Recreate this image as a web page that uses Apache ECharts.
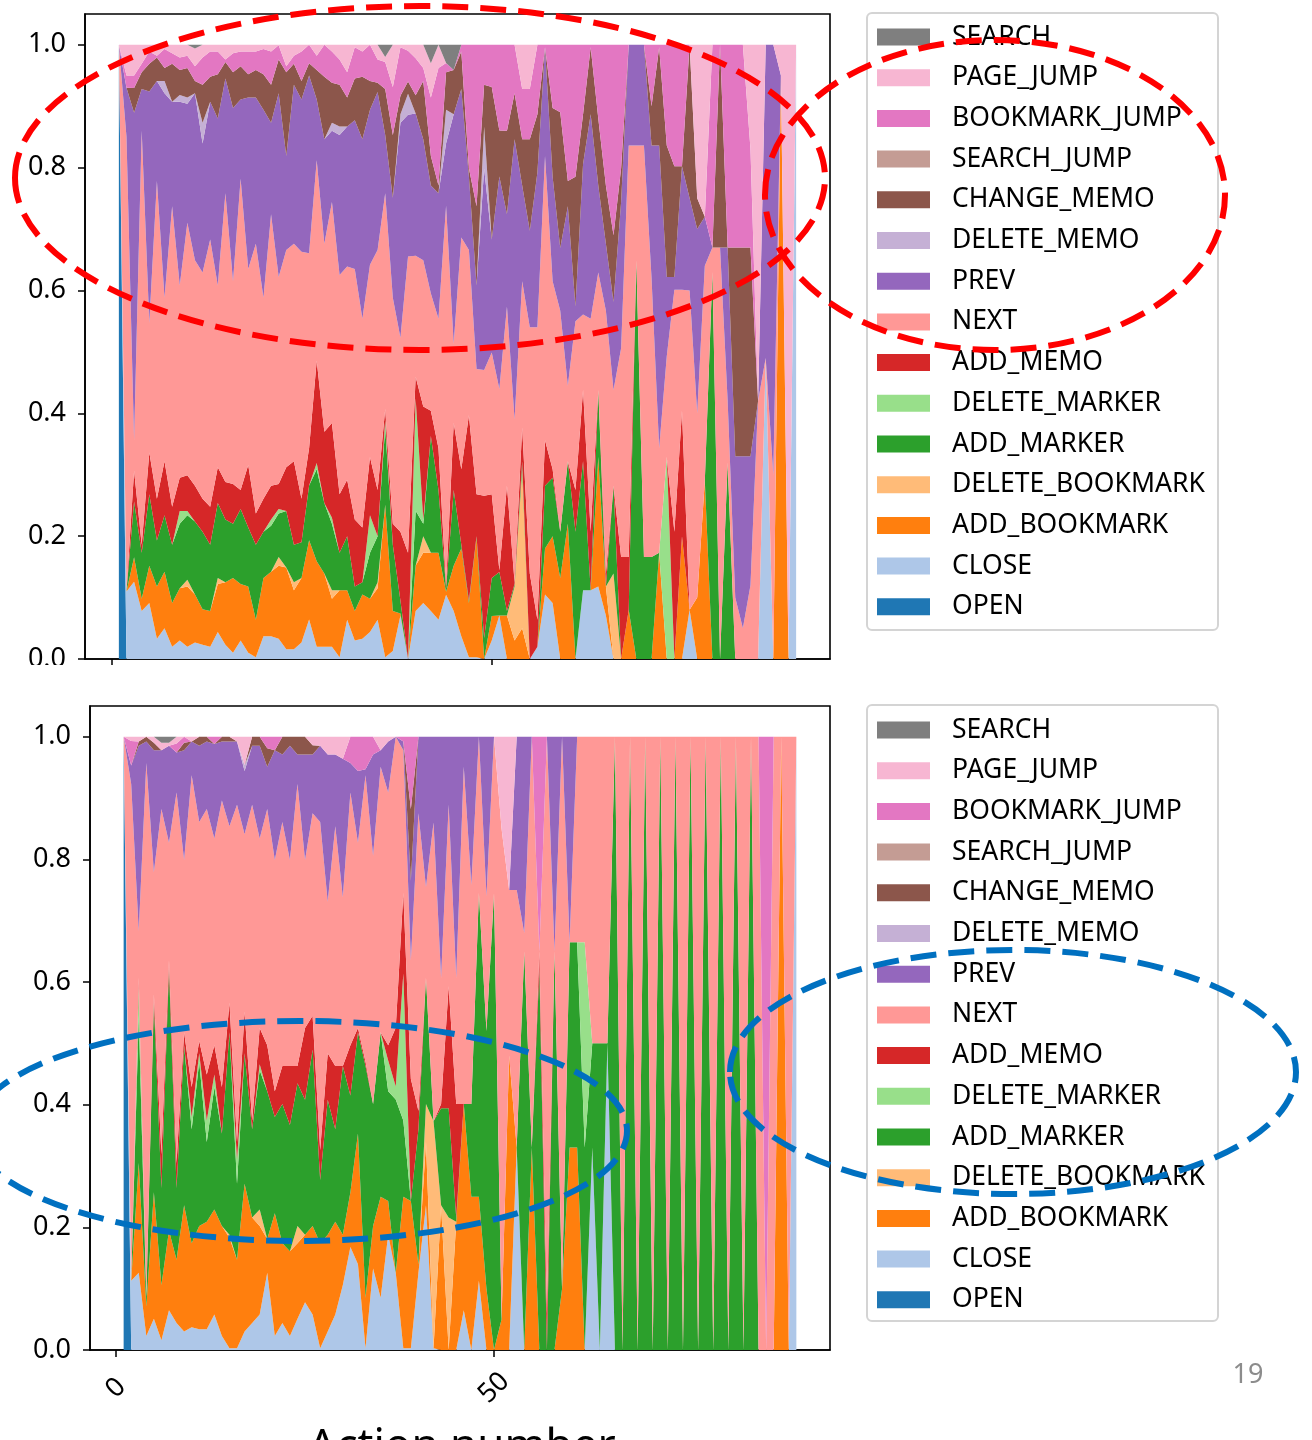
<!DOCTYPE html>
<html>
<head>
<meta charset="utf-8">
<script src="https://cdn.jsdelivr.net/npm/echarts@6/dist/echarts.min.js"></script>
<style>
  html, body { margin: 0; padding: 0; background: #fff; }
  #chart { width: 1312px; height: 1440px; }
</style>
</head>
<body>
<div id="chart"></div>
<script>
// x axis: action number 1..90
const actions = []
for (let i = 1; i <= 90; i++) actions.push(i)

// stacking order, bottom first
const actionNames = ['OPEN', 'CLOSE', 'ADD_BOOKMARK', 'DELETE_BOOKMARK', 'ADD_MARKER', 'DELETE_MARKER',
  'ADD_MEMO', 'NEXT', 'PREV', 'DELETE_MEMO', 'CHANGE_MEMO', 'SEARCH_JUMP', 'BOOKMARK_JUMP', 'PAGE_JUMP', 'SEARCH']
const actionColors = ['#1f77b4', '#aec7e8', '#ff7f0e', '#ffbb78', '#2ca02c', '#98df8a',
  '#d62728', '#ff9896', '#9467bd', '#c5b0d5', '#8c564b', '#c49c94', '#e377c2', '#f7b6d2', '#7f7f7f']

const xTicks = [0, 50]
const yTicks = [0, 0.2, 0.4, 0.6, 0.8, 1.0]

// sparse series: {action number: share}, every other action is 0
function fromSparse(obj) {
  const arr = actions.map(() => 0)
  Object.keys(obj).forEach(k => { arr[Number(k) - 1] = obj[k] })
  return arr
}

/* ---------- upper chart (shares in %) ---------- */
const topOpen = fromSparse({1: 100})
const topClose = [
  0, 11, 12.5, 7.8, 9.1, 3.3, 5, 2, 3, 2,
  2.7, 2.3, 2, 4.4, 2.3, 1, 3, 1, 0.3, 3.7,
  3.7, 3.3, 1.6, 1.6, 2.7, 6.4, 2, 2, 2, 0.3,
  6.4, 3, 3.3, 4.4, 6.4, 0.3, 1.3, 7.1, 0, 7.8,
  9.1, 7.8, 6.4, 10.5, 7.8, 3.7, 0.3, 0.3, 0, 3,
  7.1, 0, 0, 0, 0, 2, 10.5, 9.1, 0, 0,
  0, 11.2, 11.2, 11.8, 7.1, 0, 0, 0, 0, 0,
  0, 0, 0, 0, 0, 8, 0, 0, 0, 0,
  0, 0, 0, 0, 0, 49, 0, 0, 0, 100]
const topAddBookmark = [
  0, 0, 4, 2, 6.1, 8.5, 9.2, 7.1, 8.5, 9.8,
  7.8, 5.8, 5.8, 7.8, 10.2, 12.2, 9.2, 10.8, 6.1, 9.5,
  10.5, 11.9, 13.3, 9.6, 10.5, 12.9, 13.9, 11.9, 7.8, 10.9,
  4.8, 4.8, 7.2, 5.4, 5.1, 24.8, 6.5, 0.3, 0, 7.4,
  8.2, 9.5, 10.9, 0.5, 7.4, 14.3, 8.8, 19.4, 0, 4,
  0, 7.1, 3, 5, 0, 0, 7.5, 10.9, 13.2, 22,
  0, 0, 0, 21.1, 4.7, 0, 0, 8, 0, 0,
  0, 17.3, 0, 0, 20, 0, 10, 29, 0, 0,
  0, 0, 0, 0, 0, 0, 0, 95, 0, 0]
const topDeleteBookmark = fromSparse({10: 1.1, 14: 1, 22: 1.4, 24: 1.3, 29: 1.4, 35: 1, 41: 2.7, 53: 8.8, 54: 25.9, 66: 13.9})
const topAddMarker = [
  0, 0, 9, 7.5, 11.6, 7.5, 9.2, 9.5, 10.5, 10.5,
  11.9, 12.6, 10.8, 12.2, 10.2, 8.8, 12.2, 9.6, 12.2, 7.5,
  7.5, 7.1, 9.2, 6.1, 5.8, 8.9, 15, 11.5, 10.8, 6.1,
  8.8, 4, 2, 7.5, 7.5, 12.6, 10.8, 2.1, 0, 8.9,
  2, 19, 10.2, 0.5, 12.3, 0.6, 0.4, 0.3, 3.4, 6.2,
  7.1, 0.7, 0.4, 1.3, 0, 0, 10.2, 9.5, 7.5, 10.2,
  20.7, 21, 0, 10.9, 0, 14.3, 0, 0, 64.9, 16.6,
  16.6, 0, 0, 0, 0, 0, 0, 0, 63, 0,
  32, 0, 0, 0, 0, 0, 0, 0, 0, 0]
const topDeleteMarker = fromSparse({9: 2.1, 10: 0.7, 21: 1, 22: 0.7, 27: 1, 29: 1, 34: 6.1, 36: 1.3, 40: 18.3, 41: 0.7, 73: 32.9})
const topAddMemo = [
  0, 0, 5, 1.3, 6.8, 6.8, 8.8, 6.2, 5.4, 5.8,
  5.8, 5.4, 6.2, 5.8, 6.1, 6.5, 3.1, 10.2, 5.1, 5.4,
  5.5, 4.1, 7.1, 13.6, 7.1, 6.1, 16.7, 11.6, 15.4, 9.5,
  9.2, 10.9, 8.9, 9.5, 7.5, 1.7, 3.4, 11.2, 17.3, 3.5,
  18.4, 4.1, 6.8, 0.5, 10.9, 12.3, 30.2, 6.8, 23.1, 13.6,
  0.3, 20.4, 0.3, 5.5, 13.9, 4.4, 7.4, 1.4, 0, 0,
  6.8, 11.6, 9.5, 0, 2.1, 0, 16.6, 8.6, 0, 0,
  0, 0, 0, 20.7, 20.4, 0, 0, 0, 0, 0,
  0, 0, 0, 0, 0, 0, 0, 0, 0, 0]
const topNext = [
  0, 74, 5, 67.4, 21.1, 51.7, 26.6, 48.9, 31.3, 41.1,
  36.7, 36.8, 43.5, 29.6, 47, 33, 50.7, 31.9, 43.9, 32.7,
  44.2, 33.7, 35.4, 35.4, 40.2, 31.6, 32.6, 30.6, 36, 35.7,
  34.7, 40.8, 34, 31.3, 39.1, 35.1, 36.8, 31.6, 48.3, 19.7,
  23.8, 19.1, 21.1, 62, 12.9, 37.7, 26.9, 20.4, 20.4, 23.1,
  29.6, 29.2, 26.5, 23.8, 40.1, 47.6, 46.3, 30.6, 36, 12.3,
  27.5, 12.3, 34.7, 19.1, 42.8, 15.6, 34, 67, 18.7, 67,
  45.4, 17, 16.4, 39.4, 19.7, 52, 30, 35, 4, 67,
  10, 10, 5, 12, 42, 0, 30, 0, 0, 0]
const topPrev = [
  0, 8, 53, 6.8, 37.7, 16.3, 33.3, 17, 29.9, 19.4,
  27.2, 21, 22.4, 27.2, 18.7, 28.2, 12.9, 27.9, 23.8, 30.6,
  14.9, 29.9, 15.3, 25.9, 24.8, 28.9, 9.9, 17, 11.6, 22.8,
  22.8, 24.2, 29.2, 25.2, 25.7, 9.5, 16.3, 35, 23.1, 23.1,
  19.7, 17.6, 20.4, 10.2, 37.4, 24.2, 11.9, 13.6, 32.7, 18.4,
  34.7, 15, 45.6, 15.6, 15.7, 25.2, 17.7, 17, 10.2, 29.2,
  2.4, 24.5, 33.3, 14.2, 10.9, 14.3, 23.8, 16.4, 16.4, 16.4,
  21.6, 49.3, 12.9, 2.1, 20.1, 15, 30, 8, 0, 0,
  25, 23, 28, 21, 0, 51, 70, 0, 0, 0]
const topDeleteMemo = fromSparse({7: 2, 9: 1.1, 10: 1, 12: 3.4, 29: 1.3, 30: 1.4, 38: 1.4, 39: 3.4, 44: 5.5, 49: 6.8})
const topChangeMemo = [
  0, 0, 4, 2.7, 4.5, 3.8, 2.1, 6.2, 4.1, 4.8,
  2, 6.2, 4.1, 7.2, 2.7, 5.8, 5.4, 3.8, 4.5, 5.8,
  6.2, 5.5, 13.6, 3.4, 3, 2, 4.8, 10.2, 6.5, 6.8,
  4.7, 6.8, 10.2, 4.7, 1.5, 7.5, 10.2, 3, 2, 3,
  9.5, 4.8, 1.3, 6.1, 7.2, 6.1, 1.4, 12.9, 6.8, 24.8,
  7.5, 13.6, 7.5, 7.5, 14.9, 9.5, 0, 11.2, 22.1, 4.1,
  21.1, 8.1, 10.9, 10.9, 9.5, 10.9, 5.5, 0, 0, 0,
  6.4, 16, 21.4, 18, 0, 25, 5, 0, 0, 33,
  0, 34, 34, 34, 0, 0, 0, 0, 0, 0]
const topSearchJump = fromSparse({})
const topBookmarkJump = [
  0, 2, 2, 1.4, 2, 0.3, 3.1, 1.7, 2, 2,
  2.4, 4.4, 4.1, 3.7, 0.4, 3.1, 2.4, 3.7, 3, 4.1,
  5.4, 2.3, 1, 1.3, 4.8, 3, 2.3, 5.2, 5.1, 4.1,
  4.1, 5.1, 4.1, 5.9, 3.8, 4.4, 7.8, 7.9, 5, 6,
  2.1, 9.5, 19.1, 1.5, 0, 1.1, 20.1, 26.3, 6.5, 6.9,
  14, 14, 7.9, 8.2, 8.2, 11.3, 0.4, 10.3, 11, 22.2,
  21.5, 11.3, 0.4, 12, 22.9, 31, 20.1, 0, 0, 0,
  10, 0.4, 16.4, 19.8, 19.8, 0, 0, 0, 33, 0,
  33, 33, 33, 16, 0, 0, 0, 0, 0, 0]
const topPageJump = [
  0, 5, 5, 3.1, 1.1, 1.8, 0.7, 1.4, 2.1, 1.8,
  2.9, 2.1, 1.1, 1.1, 2.4, 1.4, 1.1, 1.1, 1.1, 0.7,
  1.1, 0.1, 3.5, 1.8, 1.1, 0, 1.8, 0, 1.1, 2.4,
  4.5, 0.4, 1.1, 0, 2.4, 0.8, 6.9, 0.4, 1, 2.2,
  3.8, 5.6, 3.8, 0, 0, 0, 0, 0, 0, 0,
  0, 0, 0, 7.2, 7.2, 0, 0, 0, 0, 0,
  0, 0, 0, 0, 0, 0, 0, 0, 0, 0,
  0, 0, 0, 0, 0, 0, 25, 28, 0, 0,
  0, 0, 0, 17, 58, 0, 0, 5, 100, 0]
const topSearch = fromSparse({11: 0.6, 36: 2, 42: 3, 44: 3, 45: 4.1})

/* ---------- lower chart (shares in %) ---------- */
const botOpen = fromSparse({1: 100})
const botClose = [
  0, 11.3, 12.6, 2.3, 5.1, 1.6, 6.5, 4.4, 3, 3.7,
  3.4, 3.4, 5.8, 2.3, 0.3, 0.3, 3, 4.4, 5.8, 12.6,
  2.3, 4.4, 2.3, 5.1, 7.8, 5.8, 0.3, 3, 5.8, 10.6,
  16.8, 14, 0.3, 13.3, 8.5, 18.8, 12.6, 0.3, 0.3, 12.6,
  23.6, 0.3, 0, 0, 0, 6.5, 0, 11.3, 0, 0,
  0, 0, 33, 0, 0, 0, 0, 0, 0, 0,
  0, 0, 33, 0, 50, 0, 0, 0, 0, 0,
  0, 0, 0, 0, 0, 0, 0, 0, 0, 0,
  0, 0, 0, 0, 0, 0, 0, 0, 0, 100]
const botAddBookmark = [
  0, 0, 17.9, 4.8, 20.6, 9, 13, 10.3, 20.6, 13.7,
  16.8, 17.5, 17.1, 17.9, 18, 14.4, 24.1, 17.2, 14.4, 5.5,
  20, 13, 13.8, 12.3, 11, 14.4, 17.1, 15.8, 15.1, 8.2,
  8.9, 21.3, 8.2, 6.9, 16.5, 5.5, 0, 24.7, 24, 1.4,
  10.3, 0, 23.6, 0, 20.9, 33.6, 25, 13.7, 10, 0,
  5, 48, 0, 0, 33, 0, 0, 0, 10, 33,
  33, 0, 0, 0, 0, 0, 0, 0, 0, 0,
  0, 0, 0, 0, 0, 0, 0, 0, 0, 0,
  0, 0, 0, 0, 0, 0, 0, 100, 0, 0]
const botDeleteBookmark = fromSparse({15: 0.5, 19: 2.7, 24: 2.8, 41: 6.2, 42: 37, 44: 21.6})
const botAddMarker = [
  0, 0, 24, 1.4, 30.9, 15.8, 42.6, 11.7, 26.1, 18.6,
  26.8, 13, 20, 15.1, 33, 12.4, 21.3, 14.4, 22.7, 24.1,
  15.7, 22.7, 20.6, 23.3, 22, 28.8, 10.3, 22, 15.1, 27.5,
  15.8, 16.5, 37.8, 19.9, 26.8, 17.9, 28.2, 12.4, 0, 22,
  20.6, 0, 15.8, 17.8, 0.7, 0, 15.1, 49.5, 42, 74.5,
  0, 0, 0, 65, 0, 62, 0, 65, 0, 33.5,
  33.5, 33, 17, 50, 0, 100, 0, 100, 0, 100,
  0, 100, 0, 100, 0, 100, 0, 100, 0, 100,
  0, 100, 0, 100, 0, 0, 0, 0, 0, 0]
const botDeleteMarker = fromSparse({3: 4.8, 10: 2, 11: 1.4, 12: 3.5, 13: 2, 16: 4, 19: 1, 36: 5, 37: 2.1, 38: 24, 62: 33.5})
const botAddMemo = [
  0, 0, 1.4, 0, 1.4, 5.5, 1.4, 4.1, 2.1, 4.9,
  2, 7.5, 4.8, 7.6, 4.8, 2.8, 6.8, 1.4, 5.9, 7.5,
  4.2, 6.2, 9.6, 2.8, 11.7, 5.5, 4.9, 7.6, 10.3, 0,
  8.2, 0.7, 0.7, 0, 0, 2.5, 9.6, 13.1, 19.9, 3,
  0, 0, 0.7, 19.9, 18.5, 0, 0, 0, 0, 0,
  0, 0, 0, 0, 0, 3, 6, 0, 0, 0,
  0, 0, 0, 0, 0, 0, 0, 0, 0, 0,
  0, 0, 0, 0, 0, 0, 0, 0, 0, 0,
  0, 0, 0, 0, 0, 0, 0, 0, 0, 0]
const botNext = [
  0, 81, 7.6, 87.2, 19.9, 56.3, 19.2, 60.4, 28.1, 50.8,
  35.7, 43.3, 33.7, 46.7, 28.8, 55, 28.9, 51.5, 30.9, 38.5,
  37.7, 39.8, 33.6, 46, 27.4, 33, 53.5, 24.7, 39.1, 27.5,
  41.2, 30.2, 46.7, 40.5, 43.3, 41.2, 47.4, 23.3, 19.3, 48.5,
  14.8, 48.7, 20.6, 29.6, 20.6, 55, 35.7, 25.5, 22, 25.5,
  80, 27, 42, 3, 67, 0, 94, 0, 90, 0,
  33.5, 33.5, 50, 50, 50, 0, 100, 0, 100, 0,
  100, 0, 100, 0, 100, 0, 100, 0, 100, 0,
  100, 0, 100, 0, 100, 0, 100, 0, 100, 0]
const botPrev = [
  0, 3, 30.2, 3.5, 19.9, 9.6, 15.8, 6.5, 17.9, 5.5,
  12.4, 11, 15.4, 9.6, 13.8, 10.3, 10.3, 9.6, 15.1, 6.9,
  17.9, 11, 18.6, 4.8, 17.2, 9.6, 12.4, 24, 11.7, 22.6,
  4.8, 11.7, 1, 16.5, 2.7, 8.3, 0, 1.4, 13, 12.5,
  24.5, 14, 39.3, 11.1, 39.3, 4.9, 24.2, 0, 26, 0,
  0, 0, 25, 32, 0, 0, 0, 35, 0, 33.5,
  0, 0, 0, 0, 0, 0, 0, 0, 0, 0,
  0, 0, 0, 0, 0, 0, 0, 0, 0, 0,
  0, 0, 0, 0, 0, 0, 0, 0, 0, 0]
const botDeleteMemo = fromSparse({17: 1})
const botChangeMemo = fromSparse({3: 0.7, 4: 0.8, 5: 1.2, 9: 1.2, 11: 1.5, 12: 0.8, 14: 0.8, 15: 0.8, 18: 1.5, 19: 1.5,
  20: 3, 22: 2.9, 23: 1.5, 24: 2.9, 25: 2.9, 26: 1.5, 39: 11.7})
const botSearchJump = fromSparse({})
const botBookmarkJump = fromSparse({2: 4, 8: 1.5, 9: 1, 13: 1.2, 20: 1.9, 21: 2.2, 31: 4.3, 32: 5.6, 33: 5.3, 34: 2.9,
  38: 0.8, 39: 11.8, 56: 35, 86: 100})
const botPageJump = fromSparse({2: 0.7, 3: 0.8, 5: 1, 6: 1.2, 7: 0.5, 8: 1.1, 10: 0.8, 16: 0.8, 17: 4.6, 26: 1.4,
  27: 1.5, 28: 2.9, 29: 2.9, 30: 3.6, 35: 2.2, 36: 0.8, 51: 15, 52: 25})
const botSearch = fromSparse({6: 1, 7: 1})

const topRows = [topOpen, topClose, topAddBookmark, topDeleteBookmark, topAddMarker, topDeleteMarker, topAddMemo,
  topNext, topPrev, topDeleteMemo, topChangeMemo, topSearchJump, topBookmarkJump, topPageJump, topSearch]
const botRows = [botOpen, botClose, botAddBookmark, botDeleteBookmark, botAddMarker, botDeleteMarker, botAddMemo,
  botNext, botPrev, botDeleteMemo, botChangeMemo, botSearchJump, botBookmarkJump, botPageJump, botSearch]

const font = 'Noto Sans'

// every column is normalised so the stack reaches 1.0.
// data is [share, action] so the share column is the one that gets stacked
function buildSeries(rows, idx) {
  const totals = actions.map((a, i) => rows.reduce((s, r) => s + r[i], 0))
  return rows.map((r, k) => ({
    name: actionNames[k],
    type: 'line',
    xAxisIndex: idx,
    yAxisIndex: idx,
    stack: 'share' + idx,
    encode: { x: 1, y: 0 },
    symbol: 'none',
    silent: true,
    emphasis: { disabled: true },
    lineStyle: { width: 0 },
    itemStyle: { color: actionColors[k] },
    areaStyle: { color: actionColors[k], opacity: 1 },
    data: actions.map((a, i) => [totals[i] ? r[i] / totals[i] : 0, a])
  }))
}

function xAxisFor(idx, withLabels) {
  return {
    type: 'value',
    gridIndex: idx,
    min: -3.45,
    max: 94.45,
    axisLine: { show: true, onZero: false, lineStyle: { color: '#000', width: 1.6 } },
    axisTick: { show: true, customValues: xTicks, length: 7, lineStyle: { color: '#000', width: 1.5 } },
    axisLabel: {
      show: withLabels, customValues: xTicks, rotate: 45, align: 'center', verticalAlign: 'middle',
      margin: 38, fontSize: 27, fontFamily: font, color: '#000'
    },
    splitLine: { show: false }
  }
}

function yAxisFor(idx) {
  return {
    type: 'value',
    gridIndex: idx,
    min: 0,
    max: 1.05,
    axisLine: { show: true, onZero: false, lineStyle: { color: '#000', width: 1.6 } },
    axisTick: { show: true, customValues: yTicks, length: 7, lineStyle: { color: '#000', width: 1.5 } },
    axisLabel: {
      customValues: yTicks, formatter: v => v.toFixed(1), margin: 19,
      fontSize: 27, fontFamily: font, color: '#000'
    },
    splitLine: { show: false }
  }
}

function legendFor(top) {
  return {
    orient: 'vertical',
    left: 877,
    top: top,
    padding: 0,
    itemWidth: 53,
    itemHeight: 17,
    itemGap: 10.7,
    icon: 'rect',
    selectedMode: false,
    data: actionNames.slice().reverse(),
    textStyle: { fontSize: 26.5, fontFamily: font, color: '#000', lineHeight: 30, padding: [0, 0, 0, 17] },
    z: 5
  }
}

function dashedEllipse(cx, cy, rx, ry, color) {
  return {
    type: 'ellipse', silent: true, z: 100,
    shape: { cx: cx, cy: cy, rx: rx, ry: ry },
    style: { fill: 'none', stroke: color, lineWidth: 6, lineDash: [26, 12] }
  }
}

const chart = echarts.init(document.getElementById('chart'), null, { renderer: 'canvas' })
chart.setOption({
  animation: false,
  backgroundColor: '#fff',
  textStyle: { fontFamily: font },
  grid: [
    { left: 85, top: 14, width: 745, height: 645, show: true, borderColor: '#000', borderWidth: 1.6,
      backgroundColor: 'transparent', outerBoundsMode: 'none' },
    { left: 90, top: 706, width: 740, height: 644, show: true, borderColor: '#000', borderWidth: 1.6,
      backgroundColor: 'transparent', outerBoundsMode: 'none' }
  ],
  xAxis: [xAxisFor(0, false), xAxisFor(1, true)],
  yAxis: [yAxisFor(0), yAxisFor(1)],
  legend: [legendFor(22), legendFor(715)],
  series: buildSeries(topRows, 0).concat(buildSeries(botRows, 1)),
  graphic: [
    // legend frames
    { type: 'rect', silent: true, z: 1, shape: { x: 867, y: 13, width: 351, height: 617, r: 5 },
      style: { fill: '#fff', stroke: '#d4d4d4', lineWidth: 2 } },
    { type: 'rect', silent: true, z: 1, shape: { x: 867, y: 705, width: 351, height: 616, r: 5 },
      style: { fill: '#fff', stroke: '#d4d4d4', lineWidth: 2 } },
    // the upper figure is cropped just under its axis
    { type: 'rect', silent: true, z: 90, shape: { x: 0, y: 665, width: 862, height: 39 },
      style: { fill: '#fff' } },
    // x axis title of the lower figure, cut by the slide edge
    { type: 'text', silent: true, z: 100, x: 462, y: 1447,
      style: { text: 'Action number', fill: '#000', fontSize: 44, fontFamily: font, align: 'center', verticalAlign: 'middle' } },
    // annotations
    dashedEllipse(420, 178, 405, 172, '#ff0000'),
    dashedEllipse(995, 195, 230, 155, '#ff0000'),
    dashedEllipse(300, 1131, 327, 110, '#0070c0'),
    dashedEllipse(1013, 1072, 283, 122, '#0070c0'),
    // slide page number
    { type: 'text', silent: true, z: 100, x: 1248, y: 1375,
      style: { text: '19', fill: '#8c8c8c', fontSize: 27, fontFamily: font, align: 'center', verticalAlign: 'middle' } }
  ]
})
</script>
</body>
</html>
